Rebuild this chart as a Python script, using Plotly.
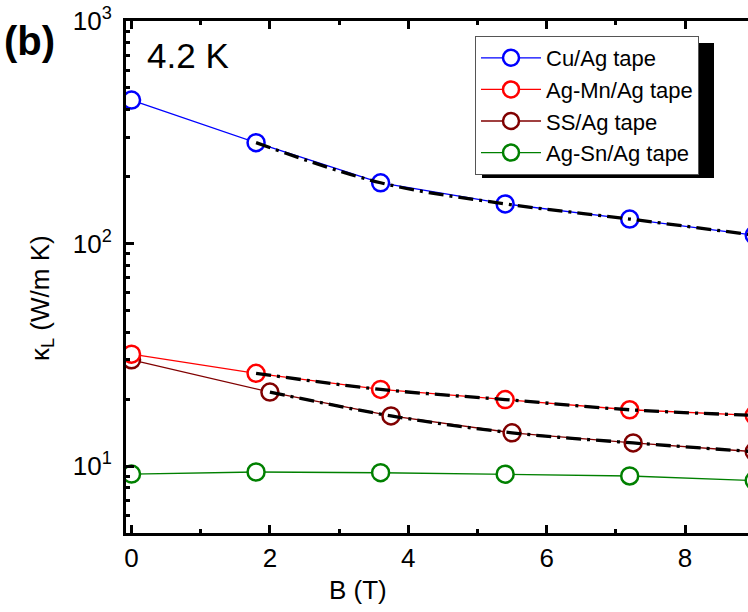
import plotly.graph_objects as go

# ---- data ----
B_cu = [0, 1.8, 3.6, 5.4, 7.2, 9]
k_cu = [441, 284, 187.5, 150.7, 128.8, 109]

B_mn = [0, 1.8, 3.6, 5.4, 7.2, 9]
k_mn = [31.8, 26.1, 22.1, 19.9, 17.9, 16.9]

B_ss = [0, 2, 3.75, 5.5, 7.25, 9]
k_ss = [30.0, 21.5, 16.8, 14.1, 12.7, 11.6]

B_sn = [0, 1.8, 3.6, 5.4, 7.2, 9]
k_sn = [9.2, 9.4, 9.33, 9.19, 9.02, 8.6]

names = ["Cu/Ag tape", "Ag-Mn/Ag tape", "SS/Ag tape", "Ag-Sn/Ag tape"]
colors = ["#0000FF", "#FF0000", "#800000", "#008000"]

y_tickvals = [10, 100, 1000]
y_ticktext = ["10<sup>1</sup>", "10<sup>2</sup>", "10<sup>3</sup>"]
y_minor = [5, 6, 7, 8, 9, 20, 30, 40, 50, 60, 70, 80, 90,
           200, 300, 400, 500, 600, 700, 800, 900]

FONT = "Liberation Sans, Arial, sans-serif"

fig = go.Figure()

series = [
    (B_cu, k_cu, 0, 1),
    (B_ss, k_ss, 2, 3),
    (B_mn, k_mn, 1, 2),
    (B_sn, k_sn, 3, 4),
]
for xs, ys, ci, rank in series:
    fig.add_trace(go.Scatter(
        x=xs, y=ys, name=names[ci], mode="lines+markers",
        line=dict(color=colors[ci], width=1.3),
        marker=dict(symbol="circle", size=17, color="white",
                    line=dict(color=colors[ci], width=2.5)),
        legendrank=rank,
    ))

# fit curves (black dash-dot) through high-field data
for xs, ys in [(B_cu[1:], k_cu[1:]), (B_mn[1:], k_mn[1:]), (B_ss[1:], k_ss[1:])]:
    fig.add_trace(go.Scatter(
        x=xs, y=ys, mode="lines", showlegend=False, hoverinfo="skip",
        line=dict(color="black", width=3.3, dash="15px,6px,3px,6px", shape="spline"),
    ))

L, T, Bm = 126, 21, 79
W, H = 748, 612
pw, ph = W - L, H - T - Bm

def px(xp):
    return (xp - L) / pw

def py(yp):
    return (H - Bm - yp) / ph

# legend shadow (offset ~7 px right/down from the legend box)
fig.add_shape(type="rect", xref="paper", yref="paper",
              x0=px(482), x1=px(714), y0=py(178), y1=py(43),
              fillcolor="black", line=dict(width=0), layer="above")

fig.update_layout(
    width=W, height=H,
    margin=dict(l=L, r=0, t=T, b=Bm),
    paper_bgcolor="white", plot_bgcolor="white",
    font=dict(family=FONT, color="black"),
    showlegend=True,
    legend=dict(x=px(475), y=py(36), xanchor="left", yanchor="top",
                bgcolor="white", bordercolor="#555555", borderwidth=1,
                font=dict(size=22, family=FONT), tracegroupgap=0,
                itemwidth=60),
    xaxis=dict(range=[-0.08, 8.91], tickvals=[0, 2, 4, 6, 8],
               ticks="inside", ticklen=8, tickwidth=2.5, tickcolor="black",
               showline=True, linewidth=3, linecolor="black", mirror="ticks",
               showgrid=False, zeroline=False,
               tickfont=dict(size=26, family=FONT),
               minor=dict(tickvals=[1, 3, 5, 7], ticks="inside", ticklen=4,
                          tickwidth=2.5, tickcolor="black", showgrid=False)),
    yaxis=dict(type="log", range=[0.699, 3],
               tickvals=y_tickvals, ticktext=y_ticktext,
               ticks="inside", ticklen=8, tickwidth=2.5, tickcolor="black",
               showline=True, linewidth=3, linecolor="black", mirror=False,
               showgrid=False, zeroline=False, ticklabelstandoff=6,
               tickfont=dict(size=26, family=FONT),
               minor=dict(tickvals=y_minor, ticks="inside", ticklen=4,
                          tickwidth=2.5, tickcolor="black", showgrid=False)),
)

fig.add_annotation(xref="paper", yref="paper", x=px(358), y=py(590),
                   text="B (T)", showarrow=False,
                   font=dict(size=26, family=FONT), xanchor="center", yanchor="middle")
fig.add_annotation(xref="paper", yref="paper", x=px(41), y=py(298),
                   text="κ<sub>L</sub> (W/m K)", showarrow=False, textangle=-90,
                   font=dict(size=26, family=FONT), xanchor="center", yanchor="middle")
fig.add_annotation(xref="paper", yref="paper", x=px(145), y=py(55),
                   text="4.2 K", showarrow=False,
                   font=dict(size=35, family=FONT), xanchor="left", yanchor="middle")
fig.add_annotation(xref="paper", yref="paper", x=px(2), y=py(41),
                   text="<b>(b)</b>", showarrow=False,
                   font=dict(size=40, family=FONT), xanchor="left", yanchor="middle")

fig.write_html("out.html")
